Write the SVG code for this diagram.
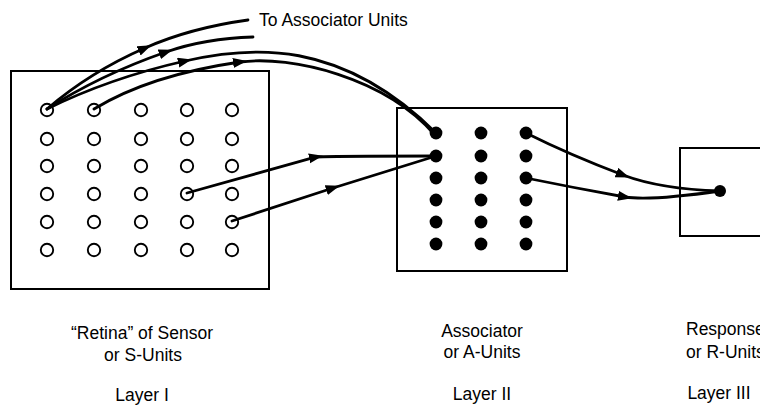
<svg xmlns="http://www.w3.org/2000/svg" width="760" height="406" viewBox="0 0 760 406">
<style>
.box{fill:none;stroke:#000;stroke-width:2}
.s{fill:#fff;stroke:#000;stroke-width:1.9}
.a{fill:#000}
.c{fill:none;stroke:#000;stroke-width:2.8;stroke-linecap:round;marker-mid:url(#arr)}
.t{font-family:"Liberation Sans",Arial,Helvetica,sans-serif;font-size:17.5px;fill:#000}
.m{text-anchor:middle}
</style>
<defs>
<marker id="arr" markerUnits="userSpaceOnUse" markerWidth="16" markerHeight="12" refX="7" refY="5" orient="auto">
<path d="M0,0 L14,5 L0,10 z" fill="#000"/>
</marker>
</defs>
<rect width="760" height="406" fill="#fff"/>

<g id="layer1">
<rect class="box" x="11" y="71" width="258" height="218"/>
<g id="s-units">
<circle class="s" cx="47" cy="110" r="6.2"/><circle class="s" cx="94" cy="110" r="6.2"/><circle class="s" cx="141" cy="110" r="6.2"/><circle class="s" cx="187" cy="110" r="6.2"/><circle class="s" cx="232" cy="110" r="6.2"/>
<circle class="s" cx="47" cy="139" r="6.2"/><circle class="s" cx="94" cy="139" r="6.2"/><circle class="s" cx="141" cy="139" r="6.2"/><circle class="s" cx="187" cy="139" r="6.2"/><circle class="s" cx="232" cy="139" r="6.2"/>
<circle class="s" cx="47" cy="166" r="6.2"/><circle class="s" cx="94" cy="166" r="6.2"/><circle class="s" cx="141" cy="166" r="6.2"/><circle class="s" cx="187" cy="166" r="6.2"/><circle class="s" cx="232" cy="166" r="6.2"/>
<circle class="s" cx="47" cy="194" r="6.2"/><circle class="s" cx="94" cy="194" r="6.2"/><circle class="s" cx="141" cy="194" r="6.2"/><circle class="s" cx="187" cy="194" r="6.2"/><circle class="s" cx="232" cy="194" r="6.2"/>
<circle class="s" cx="47" cy="222" r="6.2"/><circle class="s" cx="94" cy="222" r="6.2"/><circle class="s" cx="141" cy="222" r="6.2"/><circle class="s" cx="187" cy="222" r="6.2"/><circle class="s" cx="232" cy="222" r="6.2"/>
<circle class="s" cx="47" cy="250" r="6.2"/><circle class="s" cx="94" cy="250" r="6.2"/><circle class="s" cx="141" cy="250" r="6.2"/><circle class="s" cx="187" cy="250" r="6.2"/><circle class="s" cx="232" cy="250" r="6.2"/>
</g>
<text class="t m" x="142" y="339">“Retina” of Sensor</text>
<text class="t m" x="143" y="361">or S-Units</text>
<text class="t m" x="142" y="401">Layer I</text>
</g>

<g id="layer2">
<rect class="box" x="397" y="108" width="170" height="163"/>
<g id="a-units">
<circle class="a" cx="436" cy="133" r="6.4"/><circle class="a" cx="481" cy="133" r="6.4"/><circle class="a" cx="526" cy="133" r="6.4"/>
<circle class="a" cx="436" cy="156" r="6.4"/><circle class="a" cx="481" cy="156" r="6.4"/><circle class="a" cx="526" cy="156" r="6.4"/>
<circle class="a" cx="436" cy="178" r="6.4"/><circle class="a" cx="481" cy="178" r="6.4"/><circle class="a" cx="526" cy="178" r="6.4"/>
<circle class="a" cx="436" cy="200" r="6.4"/><circle class="a" cx="481" cy="200" r="6.4"/><circle class="a" cx="526" cy="200" r="6.4"/>
<circle class="a" cx="436" cy="222" r="6.4"/><circle class="a" cx="481" cy="222" r="6.4"/><circle class="a" cx="526" cy="222" r="6.4"/>
<circle class="a" cx="436" cy="244" r="6.4"/><circle class="a" cx="481" cy="244" r="6.4"/><circle class="a" cx="526" cy="244" r="6.4"/>
</g>
<text class="t m" x="482" y="337">Associator</text>
<text class="t m" x="482" y="358">or A-Units</text>
<text class="t m" x="482" y="400">Layer II</text>
</g>

<g id="layer3">
<rect class="box" x="680" y="148" width="90" height="88"/>
<circle class="a" cx="720" cy="191" r="6"/>
<text class="t" x="686" y="335">Response</text>
<text class="t" x="686" y="358">or R-Units</text>
<text class="t m" x="719" y="399">Layer III</text>
</g>

<g id="connectors">
<path class="c" d="M47,109 Q90,72 145,48 Q190,28 248,20"/>
<path class="c" d="M47,109 Q100,75 166,52 Q205,38.4 253,37"/>
<path class="c" d="M47,109 Q110,78 185,61 C250,46 340,38 436,133"/>
<path class="c" d="M94,109 Q150,75 240,62 C292,55 385,78 434,134"/>
<path class="c" d="M187,193 L316,157 C325,156 340,156 436,156"/>
<path class="c" d="M232,221 L333,188 L436,156"/>
<path class="c" d="M526,133 Q570,155 623,175 Q660,189 720,191"/>
<path class="c" d="M526,178 Q575,188 625,197 Q650,201 720,191"/>
</g>
<text class="t" x="259" y="26">To Associator Units</text>
</svg>
